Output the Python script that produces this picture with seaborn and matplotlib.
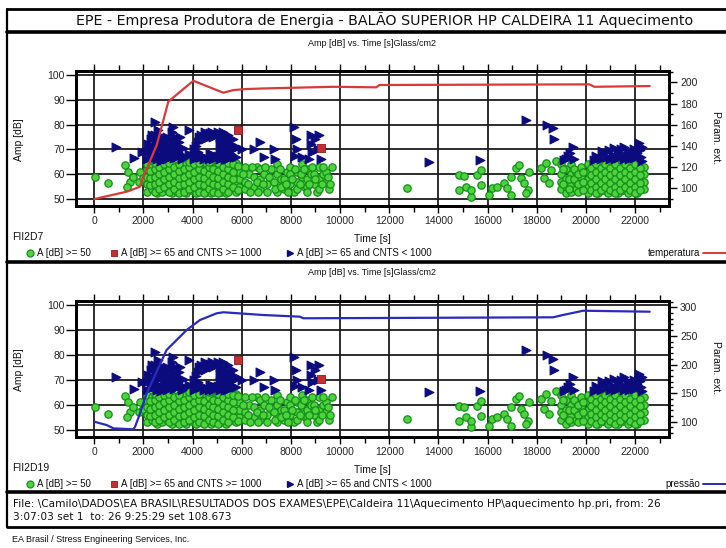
import numpy as np
import pandas as pd
import matplotlib
matplotlib.use("Agg")
import matplotlib.pyplot as plt
from matplotlib.lines import Line2D
from matplotlib.ticker import MultipleLocator
import seaborn as sns

# ---------------- texts ----------------
title_text = "EPE - Empresa Produtora de Energia - BALÃO SUPERIOR HP CALDEIRA 11 Aquecimento"
subtitle_text = "Amp [dB] vs. Time [s]Glass/cm2"
channels = ["FII2D7", "FII2D19"]
legend_labels = ["A [dB] >= 50", "A [dB] >= 65 and CNTS >= 1000", "A [dB] >= 65 and CNTS < 1000"]
line_names = ["temperatura", "pressão"]
right_label = "Param. ext."
footer_lines = [
    "File: \\Camilo\\DADOS\\EA BRASIL\\RESULTADOS DOS EXAMES\\EPE\\Caldeira 11\\Aquecimento HP\\aquecimento hp.pri, from: 26",
    "3:07:03 set 1  to: 26 9:25:29 set 108.673",
]
company = "EA Brasil / Stress Engineering Services, Inc."

# ---------------- hits (time [s], amplitude [dB]) ----------------
green_warmup = [(30, 59), (570, 56.3), (1250, 63.7), (1390, 61), (1460, 57), (1320, 55),
                (1590, 59), (1800, 57), (1870, 61), (2000, 58.3)]

green_block = [
    (2150, 53), (2150, 56), (2150, 59), (2150, 62), (2150, 64),
    (2350, 54), (2350, 57), (2350, 60), (2350, 63),
    (2550, 52.5), (2550, 55), (2550, 58), (2550, 61), (2550, 64),
    (2750, 53), (2750, 56), (2750, 59), (2750, 62), (2750, 64.5),
    (2950, 54), (2950, 57), (2950, 60), (2950, 63),
    (3150, 52.5), (3150, 55.5), (3150, 58.5), (3150, 61.5), (3150, 64),
    (3350, 53), (3350, 56), (3350, 59), (3350, 62),
    (3550, 54), (3550, 57), (3550, 60), (3550, 63), (3550, 65),
    (3750, 52.5), (3750, 55), (3750, 58), (3750, 61), (3750, 64),
    (3950, 53.5), (3950, 56.5), (3950, 59.5), (3950, 62.5),
    (4150, 52.5), (4150, 55), (4150, 58), (4150, 61), (4150, 64),
    (4350, 54), (4350, 57), (4350, 60), (4350, 63),
    (4550, 53), (4550, 56), (4550, 59), (4550, 62), (4550, 64.5),
    (4750, 52.5), (4750, 55.5), (4750, 58.5), (4750, 61.5), (4750, 64),
    (4950, 54), (4950, 57), (4950, 60), (4950, 63),
    (5150, 53), (5150, 56), (5150, 59), (5150, 62), (5150, 64),
    (5350, 52.5), (5350, 55), (5350, 58), (5350, 61), (5350, 64),
    (5550, 54), (5550, 57), (5550, 60), (5550, 63),
    (5750, 53), (5750, 56), (5750, 59), (5750, 62), (5750, 64.5),
    (5900, 55), (5900, 58), (5900, 61),
]

green_block_fill = [
    (2250, 55.5), (2250, 58.5), (2250, 61.5),
    (2450, 53), (2450, 56), (2450, 59), (2450, 62), (2450, 64.5),
    (2650, 54), (2650, 57), (2650, 60), (2650, 63),
    (2850, 55), (2850, 58), (2850, 61), (2850, 64),
    (3050, 53), (3050, 56), (3050, 59), (3050, 62), (3050, 64.5),
    (3250, 54), (3250, 57), (3250, 60), (3250, 63),
    (3450, 52.5), (3450, 55.5), (3450, 58.5), (3450, 61.5), (3450, 64),
    (3650, 53), (3650, 56), (3650, 59), (3650, 62),
    (3850, 54), (3850, 57), (3850, 60), (3850, 63), (3850, 65),
    (4050, 55), (4050, 58), (4050, 61), (4050, 64),
    (4250, 53), (4250, 56), (4250, 59), (4250, 62), (4250, 64.5),
    (4450, 52.5), (4450, 55.5), (4450, 58.5), (4450, 61.5),
    (4650, 54), (4650, 57), (4650, 60), (4650, 63), (4650, 65),
    (4850, 53), (4850, 56), (4850, 59), (4850, 62),
    (5050, 52.5), (5050, 55.5), (5050, 58.5), (5050, 61.5), (5050, 64.5),
    (5250, 54), (5250, 57), (5250, 60), (5250, 63),
    (5450, 53), (5450, 56), (5450, 59), (5450, 62), (5450, 64.5),
    (5650, 55), (5650, 58), (5650, 61), (5650, 64),
    (5850, 53.5), (5850, 63.5),
]

green_tail = [
    (6150, 63), (6150, 57), (6150, 54), (6300, 60), (6490, 59), (6490, 55), (6620, 63),
    (6760, 62), (6760, 58), (6760, 54), (6900, 60), (7030, 56), (7030, 53), (7200, 62),
    (7440, 64), (7440, 60), (7440, 56), (7440, 53), (7580, 58), (7710, 58), (7710, 54),
    (7850, 61), (7980, 63), (7980, 60), (7980, 56), (8120, 53), (8260, 61), (8260, 57),
    (8260, 54), (8460, 64), (8460, 59), (8560, 55), (8670, 62), (8670, 58), (8670, 55),
    (8670, 53), (8800, 60), (8940, 60), (8940, 56), (9050, 53), (9140, 63), (9140, 58),
    (9140, 54), (9300, 60), (9410, 61), (9410, 57), (9550, 54), (9680, 63),
    (6050, 60), (6250, 56), (6350, 53), (6400, 63), (6600, 57), (6650, 53), (6850, 56),
    (6950, 63), (7100, 59), (7300, 57), (7350, 54), (7550, 62), (7600, 55), (7800, 56),
    (7900, 53), (8050, 58), (8150, 62), (8350, 56), (8400, 60), (8550, 62), (8750, 56),
    (8850, 63), (9000, 58), (9250, 56), (9300, 63), (9500, 59), (9600, 56),
]

green_late_sparse = [
    (12730, 54.3), (14840, 59.7), (15040, 59.3), (14840, 53.6), (15110, 55), (15310, 51),
    (15310, 53.5), (15590, 59.7), (15720, 61.7), (15750, 55.7), (16060, 51.6), (16200, 54.3),
    (16400, 55), (16680, 56.3), (16810, 54.3), (16950, 59), (16950, 51.6), (17150, 62.4),
    (17290, 63.7), (17350, 58.3), (17490, 56.3), (17630, 53.6), (17700, 61), (17560, 52.3),
]

green_late_dense = [
    (18170, 62.4), (18370, 64.4), (18580, 61.7), (18780, 65.5), (18310, 58.3), (18510, 56.3),
    (18990, 64), (18990, 60), (18990, 57), (18990, 54),
    (19190, 62), (19190, 58), (19190, 55), (19190, 52.5),
    (19400, 64), (19400, 60), (19400, 56), (19400, 53),
    (19600, 61), (19600, 57), (19600, 54),
    (19800, 63), (19800, 59), (19800, 55.5),
    (20100, 64), (20100, 61), (20100, 58), (20100, 55), (20100, 52.5),
    (20300, 63), (20300, 60), (20300, 57), (20300, 54),
    (20500, 64), (20500, 61), (20500, 58), (20500, 55), (20500, 52.5),
    (20700, 62.5), (20700, 59.5), (20700, 56.5), (20700, 53.5),
    (20900, 64), (20900, 61), (20900, 58), (20900, 55), (20900, 52.5),
    (21100, 63), (21100, 60), (21100, 57), (21100, 54),
    (21300, 64), (21300, 61), (21300, 58), (21300, 55), (21300, 52.5),
    (21500, 62.5), (21500, 59.5), (21500, 56.5), (21500, 53.5),
    (21700, 64), (21700, 61), (21700, 58), (21700, 55), (21700, 52.5),
    (21900, 63), (21900, 60), (21900, 57), (21900, 54),
    (22100, 64), (22100, 61), (22100, 58), (22100, 55), (22100, 52.5),
    (22350, 63), (22350, 60), (22350, 57), (22350, 54),
]

green_late_fill = [
    (19090, 62), (19090, 56), (19300, 58), (19300, 54), (19500, 62), (19500, 58),
    (19700, 60), (19700, 56), (19700, 53), (19900, 61), (19900, 57), (19900, 53.5),
    (20200, 62.5), (20200, 59.5), (20200, 56.5), (20200, 53.5),
    (20400, 64), (20400, 61), (20400, 58), (20400, 55), (20400, 52.5),
    (20600, 62.5), (20600, 59.5), (20600, 56.5), (20600, 53.5),
    (20800, 64), (20800, 61), (20800, 58), (20800, 55),
    (21000, 62.5), (21000, 59.5), (21000, 56.5), (21000, 53.5),
    (21200, 64), (21200, 61), (21200, 58), (21200, 55), (21200, 52.5),
    (21400, 62.5), (21400, 59.5), (21400, 56.5), (21400, 53.5),
    (21600, 64), (21600, 61), (21600, 58), (21600, 55),
    (21800, 62.5), (21800, 59.5), (21800, 56.5), (21800, 53.5),
    (22000, 64), (22000, 61), (22000, 58), (22000, 55), (22000, 52.5),
    (22200, 62.5), (22200, 59.5), (22200, 56.5), (22200, 53.5),
]

blue_early = [
    (900, 71), (1600, 66.5), (1950, 69),
    (2150, 66), (2150, 69), (2300, 67), (2300, 71), (2300, 74),
    (2450, 81), (2450, 76), (2450, 70), (2450, 67), (2600, 78), (2600, 73), (2600, 68),
    (2750, 75), (2750, 71), (2750, 67), (2900, 72), (2900, 68), (3050, 74), (3050, 70),
    (3050, 67), (3200, 79), (3200, 73), (3200, 69), (3350, 71), (3350, 67), (3500, 75),
    (3500, 68), (3700, 67), (3870, 78), (3870, 68),
    (4050, 66), (4050, 70), (4200, 73), (4200, 69), (4200, 67), (4350, 76),
    (4350, 67), (4500, 77), (4500, 74), (4500, 67), (4650, 75), (4650, 66), (4800, 77),
    (4800, 68), (4950, 76), (4950, 67), (5100, 75), (5100, 72),
    (5100, 69), (5100, 66), (5250, 77), (5250, 73), (5250, 69), (5250, 67), (5400, 74),
    (5400, 70), (5400, 66), (5550, 72), (5550, 68), (5700, 70), (5700, 67),
    (6010, 70), (6500, 70), (6760, 73), (6900, 67), (7310, 70), (7340, 66),
    (8120, 79), (8200, 74), (8250, 70), (8150, 67.5), (8450, 67), (8800, 76), (8800, 72),
    (8850, 69), (8750, 66), (9000, 74), (9150, 76), (9210, 66), (9100, 70),
]

blue_early_fill = [
    (2200, 72), (2350, 68.5), (2350, 76), (2500, 74), (2500, 72), (2550, 66), (2650, 70.5),
    (2650, 76), (2700, 65.5), (2800, 73), (2850, 69.5), (2950, 66), (2950, 75), (3000, 71.5),
    (3100, 68.5), (3150, 77), (3250, 66.5), (3250, 71), (3300, 75), (3400, 69), (3450, 73),
    (3550, 66), (3600, 70.5),
    (4100, 67.5), (4150, 71.5), (4250, 75), (4300, 67), (4450, 74.5), (4450, 66),
    (4700, 76.5), (4700, 68), (4850, 75), (4850, 66), (5050, 77), (5050, 67.5), (5150, 71),
    (5200, 75), (5300, 66), (5350, 72), (5450, 68.5), (5450, 76), (5500, 66.5), (5600, 70),
    (5650, 74), (5750, 67), (5800, 71),
]

blue_late = [
    (13615, 65.1), (15700, 65.7), (17560, 81.9), (18440, 79.8), (18650, 78.5), (18690, 74.1),
    (19120, 65.7), (19290, 67.3), (19460, 71.1), (19530, 66), (19200, 66), (19350, 68.5),
    (20350, 65.7), (20480, 66.4), (20750, 68.4), (20960, 69.7), (21100, 67.7), (21300, 69.1),
    (21300, 66.4), (21440, 70), (21640, 67.3), (21840, 68.4), (22050, 66.8), (22180, 72.4),
    (22220, 69.7), (22250, 67.1),
    (20400, 67.5), (20600, 66), (20650, 69.5), (20850, 67), (21000, 66), (21150, 70.5),
    (21200, 66), (21400, 68), (21550, 66), (21550, 71), (21700, 69.5), (21750, 66),
    (21950, 66.5), (21950, 70), (22100, 68.5), (22300, 65.5), (22300, 71),
]

red_hits = [(5850, 78), (9220, 70.5)]

# ---------------- parametric lines ----------------
temp_time = [0, 1320, 1860, 1990, 2540, 3010, 3490, 4030, 5250, 5660, 6200, 7010, 9730,
             11470, 11600, 20150, 20350, 22600]
temp_vals = [89.9, 96.8, 101.5, 110.9, 140.8, 181.7, 191.1, 201.5, 190.2, 192.7, 193.7,
             194.3, 195.8, 195.3, 197.5, 198.1, 195.8, 196.5]

press_time = [0, 500, 780, 1590, 1660, 1860, 2130, 2940, 3760, 4300, 4980, 5250, 6880,
              8370, 8500, 18670, 19070, 19890, 22600]
press_vals = [100, 94.2, 88.4, 86.7, 91.3, 114.7, 149.6, 225.3, 260.3, 277.8, 289.5,
              291.3, 286.5, 283.6, 280.8, 282.5, 286.5, 294, 292.3]

# ---------------- style ----------------
sns.set_theme(style="white")
plt.rcParams["font.family"] = ["Liberation Sans", "DejaVu Sans"]
plt.rcParams["axes.edgecolor"] = "black"

W, H = 726, 548
fig = plt.figure(figsize=(W / 100, H / 100), dpi=100)
fig.patch.set_facecolor("white")
renderer = fig.canvas.get_renderer()

GREEN_FACE, GREEN_EDGE = "#4ed23e", "#14901a"
BLUE = "#0b0b7e"
RED = "#c62f2f"


def ptext(x, y, s, **kw):
    kw.setdefault("fontsize", 7.5)
    kw.setdefault("va", "center")
    kw.setdefault("color", "#111111")
    return fig.text(x / W, 1 - y / H, s, **kw)


def fit_width(t, width):
    bb = t.get_window_extent(renderer)
    t.set_fontsize(t.get_fontsize() * width / bb.width)


def hline(y, x0=7, x1=726, lw=2.0):
    fig.add_artist(Line2D([x0 / W, x1 / W], [1 - y / H, 1 - y / H],
                          transform=fig.transFigure, lw=lw, color="black"))


def marker_at(x, y, **kw):
    fig.add_artist(Line2D([x / W], [1 - y / H], ls="none", transform=fig.transFigure, **kw))


green_df = pd.DataFrame(green_warmup + green_block + green_block_fill + green_tail
                        + green_late_sparse + green_late_dense + green_late_fill,
                        columns=["time", "amp"])
blue_df = pd.DataFrame(blue_early + blue_early_fill + blue_late, columns=["time", "amp"])
red_df = pd.DataFrame(red_hits, columns=["time", "amp"])


def draw_panel(top, height, channel, line_t, line_v, color, line_name, rlim, rmajor, rminor):
    bottom = top + height
    ax = fig.add_axes([76 / W, 1 - bottom / H, 593 / W, height / H])
    ax.set_axisbelow(True)
    sns.scatterplot(data=green_df, x="time", y="amp", ax=ax, marker="o", s=28,
                    color=GREEN_FACE, edgecolor=GREEN_EDGE, linewidth=0.9, legend=False, zorder=2)
    sns.scatterplot(data=blue_df, x="time", y="amp", ax=ax, marker=">", s=40,
                    color=BLUE, edgecolor=BLUE, linewidth=0.8, legend=False, zorder=3)
    sns.scatterplot(data=red_df, x="time", y="amp", ax=ax, marker="s", s=26,
                    color=RED, edgecolor="#8a1a1a", linewidth=0.6, legend=False, zorder=4)
    ax.set_xlim(-745, 23385)
    ax.set_ylim(47.2, 101.6)
    ax.xaxis.set_major_locator(MultipleLocator(2000))
    ax.xaxis.set_minor_locator(MultipleLocator(1000))
    ax.yaxis.set_major_locator(MultipleLocator(10))
    ax.grid(True, which="major", color="#1c1c1c", lw=1.3)
    ax.tick_params(axis="x", which="both", direction="out", bottom=True, top=True,
                   labeltop=False, labelsize=7.5, color="black", width=1, pad=2)
    ax.tick_params(axis="x", which="major", length=5)
    ax.tick_params(axis="x", which="minor", length=4)
    ax.tick_params(axis="y", which="major", direction="out", left=True, length=7,
                   width=1, labelsize=7.5, pad=1, color="black")
    for sp in ax.spines.values():
        sp.set_linewidth(2)
        sp.set_color("black")
    ax.set_xlabel("")
    ax.set_ylabel("")

    ax2 = ax.twinx()
    sns.lineplot(x=np.array(line_t), y=np.array(line_v), ax=ax2, color=color, lw=1.6,
                 estimator=None, sort=False, legend=False)
    ax2.set_ylim(*rlim)
    ax2.yaxis.set_major_locator(MultipleLocator(rmajor))
    ax2.yaxis.set_minor_locator(MultipleLocator(rminor))
    ax2.tick_params(axis="y", which="both", direction="out", right=True, width=1,
                    labelsize=7.5, pad=2, color="black")
    ax2.tick_params(axis="y", which="major", length=6)
    ax2.tick_params(axis="y", which="minor", length=3)
    ax2.grid(False)
    for sp in ax2.spines.values():
        sp.set_linewidth(2)
        sp.set_color("black")
    ax2.set_ylabel("")

    ptext(372, top - 28, subtitle_text, ha="center", fontsize=6.5)
    ptext(372, bottom + 33, "Time [s]", ha="center", fontsize=7.5)
    ptext(12, bottom + 31, channel, ha="left", fontsize=7.5)
    ptext(19, top + 69, "Amp [dB]", rotation=90, ha="center", fontsize=7.5)
    ptext(716, top + 67, right_label, rotation=270, ha="center", fontsize=7.5)

    ly = bottom + 47
    marker_at(30, ly, marker="o", ms=5, mfc=GREEN_FACE, mec=GREEN_EDGE, mew=0.9)
    ptext(37, ly, legend_labels[0], ha="left", fontsize=7)
    marker_at(114, ly, marker="s", ms=4.5, mfc=RED, mec="#8a1a1a", mew=0.6)
    ptext(121, ly, legend_labels[1], ha="left", fontsize=7)
    marker_at(290, ly, marker=">", ms=5, mfc=BLUE, mec=BLUE)
    ptext(297, ly, legend_labels[2], ha="left", fontsize=7)
    ptext(700, ly, line_name, ha="right", fontsize=7)
    fig.add_artist(Line2D([703 / W, 726 / W], [1 - ly / H, 1 - ly / H],
                          transform=fig.transFigure, lw=1.4, color=color))
    return ax, ax2


draw_panel(71, 135, channels[0], temp_time, temp_vals, "#d83a3a", line_names[0],
           (83.3, 210.7), 20, 10)
draw_panel(301, 136, channels[1], press_time, press_vals, "#2a2ac0", line_names[1],
           (73.3, 311.0), 50, 10)

# header, separators and footer
hline(9, lw=2.0)
t = ptext(385, 20, title_text, ha="center", fontsize=10, family="DejaVu Sans")
fit_width(t, 620)
hline(32, lw=2.6)
hline(262, lw=2.6)
hline(492, lw=2.6)
hline(527, lw=2.0)
fig.add_artist(Line2D([7 / W, 7 / W], [1 - 9 / H, 1 - 527 / H],
                      transform=fig.transFigure, lw=1.6, color="black"))
f1 = ptext(13, 504, footer_lines[0], ha="left", fontsize=6.5, family="DejaVu Sans")
fit_width(f1, 640)
ptext(13, 517, footer_lines[1], ha="left", fontsize=f1.get_fontsize(), family="DejaVu Sans")
ptext(12, 540, company, ha="left", fontsize=6.5)

fig.savefig("out.png", dpi=100, facecolor="white")
